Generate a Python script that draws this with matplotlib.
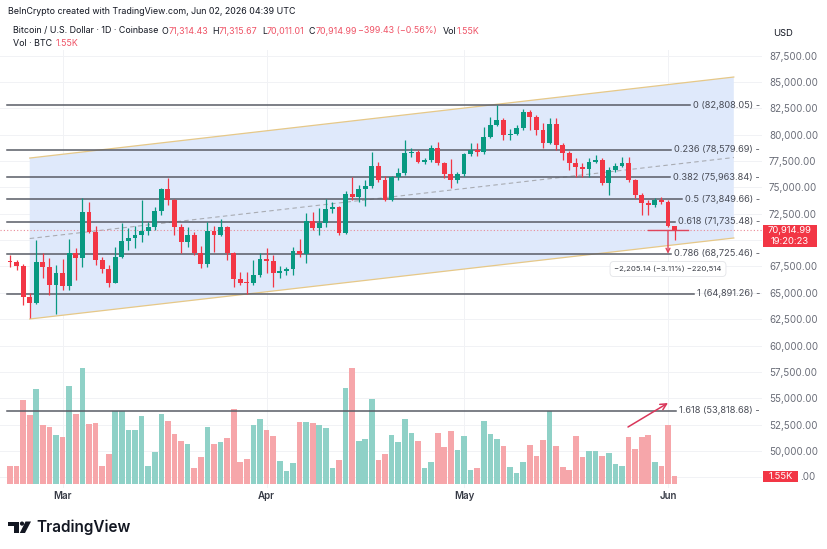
import numpy as np
import pandas as pd
import matplotlib
matplotlib.use("Agg")
import matplotlib.pyplot as plt
import matplotlib.transforms as mtransforms
from matplotlib.patches import Polygon, Rectangle, Circle

plt.rcParams['font.family'] = ['Inter', 'DejaVu Sans']

# ---------------- data ----------------
dates = pd.date_range('2026-02-21', '2026-06-02', freq='D')

opens = [68050, 67900, 67580, 64640, 64010, 67950, 67420, 65740, 66850, 65680,
         68750, 68280, 72690, 70800, 68110, 67230, 65960, 68430, 69920, 70170,
         70460, 70860, 71210, 72790, 74820, 73800, 71210, 69850, 70480, 68810,
         67740, 70860, 70480, 71270, 68750, 66280, 65960, 65900, 66690, 68180,
         68050, 66850, 67050, 67250, 68970, 68680, 71840, 71120, 71650, 72920,
         73170, 70650, 74370, 74120, 74820, 75130, 77020, 75700, 73800, 75950,
         76390, 78230, 78380, 77430, 77560, 78700, 77280, 76240, 75700, 76240,
         78130, 78540, 78380, 79800, 80910, 81390, 79960, 80100, 80660, 82170,
         81700, 80440, 79180, 80980, 79020, 78230, 77280, 76960, 76740, 77430,
         77590, 75390, 76650, 77030, 77340, 75700, 74280, 73490, 73300, 73800,
         73600, 71314.43]
highs = [68590, 68110, 67700, 64960, 70010, 68750, 68280, 67640, 68180, 70080,
         69220, 73960, 73640, 71340, 68430, 67640, 69380, 71650, 71120, 71340,
         73800, 71750, 73110, 74910, 75860, 73900, 71520, 71280, 70800, 69440,
         71750, 71340, 71970, 71350, 68900, 67000, 67000, 68110, 68750, 69220,
         68590, 67500, 67480, 69380, 70080, 72540, 72690, 73010, 73870, 73640,
         73250, 74680, 75950, 75220, 75700, 78380, 77430, 76080, 76080, 76810,
         79490, 78700, 78540, 77800, 79020, 79330, 77400, 77660, 76430, 78230,
         79180, 79180, 80750, 81700, 82808.05, 81550, 80500, 80910, 82430, 82330,
         81860, 81070, 81550, 81550, 79200, 78400, 77760, 77300, 77760, 78070,
         77750, 76960, 77300, 77850, 77910, 75800, 74430, 73800, 74000, 74100,
         73800, 71315.67]
lows = [67480, 67170, 63850, 62590, 63900, 66380, 64800, 63030, 65270, 65270,
        66220, 67480, 70650, 67640, 66850, 65580, 65900, 68300, 69060, 69250,
        69800, 70480, 71000, 72380, 73330, 70480, 68750, 69380, 68590, 67330,
        67480, 68900, 70400, 68110, 65580, 65740, 64891.26, 65750, 66500, 66850,
        65580, 66400, 66690, 66690, 68430, 67800, 70960, 70480, 71270, 72540,
        70480, 70600, 73800, 73640, 73230, 74910, 75540, 73750, 73750, 75700,
        76170, 77900, 77280, 77200, 77430, 77120, 75860, 74910, 75390, 76100,
        77980, 77980, 78200, 79650, 80800, 79490, 79500, 79960, 80440, 80440,
        79960, 78700, 79100, 78540, 77590, 76650, 76010, 76010, 76010, 77280,
        75220, 74280, 76500, 76960, 75540, 74000, 72380, 72380, 73100, 73450,
        71200, 70011.01]
closes = [67900, 67580, 64640, 64010, 67950, 67420, 65740, 66850, 65680, 68750,
          68280, 72690, 70800, 68110, 67230, 65960, 68430, 69920, 70170, 70460,
          70860, 71210, 72790, 74820, 73800, 71210, 69850, 70480, 68810, 67740,
          70860, 70480, 71270, 68750, 66280, 65960, 65900, 66690, 68180, 68050,
          66850, 67050, 67250, 68970, 68680, 71840, 71120, 71650, 72920, 73170,
          70650, 74370, 74120, 74820, 75130, 77020, 75700, 73800, 75950, 76390,
          78230, 78380, 77430, 77560, 78700, 77280, 76240, 75700, 76240, 78130,
          78540, 78380, 79800, 80910, 81390, 79960, 80100, 80660, 82170, 81700,
          80440, 79180, 80980, 79020, 78230, 77280, 76960, 76740, 77430, 77590,
          75390, 76650, 77030, 77340, 75700, 74280, 73490, 73300, 73800, 73600,
          71314.42, 70914.99]
volumes_k = [3.41, 3.41, 15.56, 12.83, 17.67, 10.91, 10.54, 9.18, 8.74, 18.17,
             13.08, 21.58, 11.16, 11.28, 3.41, 5.64, 13.64, 13.64, 10.11, 9.98,
             12.65, 3.29, 5.89, 12.96, 11.66, 9.36, 7.94, 7.44, 2.98, 5.08,
             10.60, 7.38, 7.87, 8.49, 13.95, 4.09, 4.71, 11.04, 12.09, 10.11,
             8.99, 4.34, 2.48, 3.84, 11.47, 11.47, 11.35, 10.91, 10.35, 2.91,
             4.53, 17.86, 21.58, 7.94, 8.37, 15.81, 4.40, 5.64, 9.11, 7.75,
             12.03, 9.49, 7.94, 2.98, 4.03, 9.49, 6.82, 9.92, 6.39, 8.99,
             2.54, 2.91, 11.78, 9.30, 8.43, 7.13, 3.16, 2.11, 4.03, 7.19,
             5.27, 8.12, 13.64, 7.01, 3.10, 2.54, 8.87, 5.02, 6.20, 6.20,
             5.15, 5.70, 3.72, 3.35, 8.74, 6.51, 8.74, 9.18, 4.09, 3.41,
             11.04, 1.55]

fib_ratios = ['0', '0.236', '0.382', '0.5', '0.618', '0.786', '1', '1.618']
fib_prices = [82808.05, 78579.69, 75963.84, 73849.66, 71735.48, 68725.46, 64891.26, 53818.68]

channel_idx = [3, 110]
channel_top = [77780, 85460]
channel_bottom = [62520, 70200]

price_ticks = list(range(47500, 87501, 2500))
month_labels = ['Mar', 'Apr', 'May', 'Jun']

measure_change = -2205.14
measure_pct = -3.11
measure_ticks = -220514
countdown = '19:20:23'
vol_last_label = '1.55K'

# ---------------- style / layout ----------------
GREEN, RED = '#089981', '#f23645'
VGREEN, VRED = '#8fd1c7', '#f6a6aa'
TXT, GRAY = '#131722', '#6a6d78'
RED_TXT = '#ef5366'

W, H = 828, 549
fig = plt.figure(figsize=(W / 100, H / 100), dpi=100)
fig.patch.set_facecolor('white')

AX_L, AX_R, AX_T, AX_B = 0, 762, 50, 488
ax = fig.add_axes([AX_L / W, 1 - AX_B / H, (AX_R - AX_L) / W, (AX_B - AX_T) / H])
axv = ax.twinx()
ax.set_zorder(2)
axv.set_zorder(1)
ax.patch.set_visible(False)

X0, DX = 10.0, 6.58          # px of first candle, px per bar
Y_REF, P_REF, USD_PER_PX = 105.0, 82808.05, 94.8
def px2price(py):
    return P_REF - (py - Y_REF) * USD_PER_PX
ax.set_xlim((AX_L - X0) / DX, (AX_R - X0) / DX)
ax.set_ylim(px2price(AX_B), px2price(AX_T))
VPX_PER_K = 5.376
axv.set_ylim(-(AX_B - 484) / VPX_PER_K, (484 - AX_T) / VPX_PER_K)

for a in (ax, axv):
    for s in a.spines.values():
        s.set_visible(False)

x = np.arange(len(dates))
o = np.array(opens); h = np.array(highs); l = np.array(lows); c = np.array(closes)
up = c >= o
ccol = np.where(up, GREEN, RED)
vcol = np.where(up, VGREEN, VRED)

# grid (behind volume)
month_idx = [i for i, d in enumerate(dates) if d.day == 1]
bt = mtransforms.blended_transform_factory(axv.transAxes, ax.transData)
for p in price_ticks:
    axv.plot([0, 1], [p, p], transform=bt, color='#f1f2f5', lw=0.7, zorder=0)
for i in month_idx:
    axv.axvline(i, color='#f1f2f5', lw=0.7, zorder=0)

# volume
axv.bar(x, volumes_k, width=0.86, color=vcol, linewidth=0, zorder=1)
axv.set_yticks([])

# channel
poly = Polygon([(channel_idx[0], channel_bottom[0]), (channel_idx[0], channel_top[0]),
                (channel_idx[1], channel_top[1]), (channel_idx[1], channel_bottom[1])],
               closed=True, facecolor='#dfe9fb', edgecolor='none', zorder=1)
ax.add_patch(poly)
ax.plot(channel_idx, channel_top, color='#e6c888', lw=0.9, zorder=2)
ax.plot(channel_idx, channel_bottom, color='#e6c888', lw=0.9, zorder=2)
mid = [(a + b) / 2 for a, b in zip(channel_top, channel_bottom)]
ax.plot(channel_idx, mid, color='#a9acb3', lw=0.8, ls=(0, (4, 3)), zorder=2)

# current price dotted line
ax.axhline(c[-1], color='#e98a96', lw=0.8, ls=(0, (1, 2)), zorder=2)

# candles
ax.vlines(x, l, h, colors=ccol, lw=0.9, zorder=4)
body_lo = np.minimum(o, c)
body_h = np.maximum(np.abs(c - o), 1.3 * USD_PER_PX)
ax.bar(x, body_h, bottom=body_lo, width=0.74, color=ccol, linewidth=0, zorder=5)

# fib levels
fig.canvas.draw()
renderer = fig.canvas.get_renderer()
label_x = (760 - X0) / DX
for r, p in zip(fib_ratios, fib_prices):
    t = ax.text(label_x, p, f'{r} ({p:,.2f}) -', ha='right', va='center',
                fontsize=6.7, color='#4a4d57', zorder=6)
    bb = t.get_window_extent(renderer)
    x_end = ax.transData.inverted().transform((bb.x0 - 3, 0))[0]
    ax.plot([(7 - X0) / DX, x_end], [p, p], color='#595c66', lw=1.1, zorder=3)

# measurement tool
mi = 100
ax.plot([(648 - X0) / DX, (688 - X0) / DX], [c[-1], c[-1]], color='#e0455c', lw=1.0, zorder=6)
ax.annotate('', xy=(mi, c[-1] + measure_change), xytext=(mi, c[-1]),
            arrowprops=dict(arrowstyle='->', color='#e0455c', lw=1.0,
                            mutation_scale=7, shrinkA=0, shrinkB=0), zorder=6)
ax.text(mi, px2price(269), f'\u2212{abs(measure_change):,.2f} (\u2212{abs(measure_pct):.2f}%) \u2212{abs(measure_ticks):,}',
        ha='center', va='center', fontsize=5.6, color='#3a3d46', zorder=7,
        bbox=dict(boxstyle='round,pad=0.55,rounding_size=0.5', fc='white', ec='#e3e4e8', lw=0.6))

# red arrow pointing to 1.618
ax.annotate('', xy=((668 - X0) / DX, px2price(403)), xytext=((628 - X0) / DX, px2price(427)),
            arrowprops=dict(arrowstyle='->', color='#d9365a', lw=1.1,
                            mutation_scale=11, shrinkA=0, shrinkB=0), zorder=6)

# axes ticks (labels hidden behind the red price/volume tags are left out)
hidden = {70000: '', 47500: ''}
ax.yaxis.tick_right()
ax.set_yticks(price_ticks)
ax.set_yticklabels([hidden.get(p, f'{p:,.2f}') for p in price_ticks])
ax.tick_params(axis='y', length=0, pad=5, labelsize=7, labelcolor=GRAY)
ax.set_xticks(month_idx)
ax.set_xticklabels(month_labels, fontweight='semibold')
ax.tick_params(axis='x', length=0, pad=2.5, labelsize=7, labelcolor='#363a45')
axv.tick_params(axis='both', length=0)

# ---------------- overlay (pixel coordinates) ----------------
ov = fig.add_axes([0, 0, 1, 1])
ov.set_xlim(0, W); ov.set_ylim(H, 0); ov.axis('off')
ov.set_zorder(10); ov.patch.set_visible(False)

# price label
ov.add_patch(Rectangle((763, 225), 54, 22, fc=RED, ec='none'))
ov.text(790, 230.5, f'{c[-1]:,.2f}', ha='center', va='center', fontsize=6.8, color='white')
ov.text(790, 241.5, countdown, ha='center', va='center', fontsize=6.8, color='white')
# volume label (covers most of the 47,500.00 tick label; its tail stays visible)
ov.add_patch(Rectangle((763, 471), 35, 11, fc=RED, ec='none'))
ov.text(780.5, 476.5, vol_last_label, ha='center', va='center', fontsize=6.8, color='white')
ov.text(800, 477.4, '.00', ha='left', va='center', fontsize=7, color=GRAY)
ov.text(773, 33, 'USD', ha='left', va='center', fontsize=6.8, color=TXT)

# header
ov.text(8, 12, 'BeInCrypto created with TradingView.com, Jun 02, 2026 04:39 UTC',
        ha='left', va='center', fontsize=6.4, color=TXT)
fig.canvas.draw()
renderer = fig.canvas.get_renderer()
def put_seq(items, y):
    for txt, xpos, col in items:
        ov.text(xpos, y, txt, ha='left', va='center', fontsize=6.4, color=col)
def after(letter_x, letter):
    t = ov.text(letter_x, -50, letter, fontsize=6.4)
    bb = t.get_window_extent(renderer)
    t.remove()
    return letter_x + bb.width
chg = c[-1] - c[-2]
pct = chg / c[-2] * 100
items = [('Bitcoin / U.S. Dollar \u00b7 1D \u00b7 Coinbase', 13, TXT),
         ('O', 162, TXT), (f'{o[-1]:,.2f}', after(162, 'O'), RED_TXT),
         ('H', 212, TXT), (f'{h[-1]:,.2f}', after(212, 'H'), RED_TXT),
         ('L', 262, TXT), (f'{l[-1]:,.2f}', after(262, 'L'), RED_TXT),
         ('C', 309, TXT), (f'{c[-1]:,.2f}', after(309, 'C'), RED_TXT),
         (f'\u2212{abs(chg):,.2f} (\u2212{abs(pct):.2f}%)', 358, RED_TXT),
         ('Vol', 443, TXT), (vol_last_label, after(443, 'Vol'), RED_TXT)]
put_seq(items, 31)
put_seq([('Vol \u00b7 BTC', 13, TXT), (vol_last_label, 56, RED_TXT)], 44)

# TradingView logo
ov.add_patch(Rectangle((8, 521.5), 11, 4.2, fc=TXT, ec='none'))
ov.add_patch(Rectangle((14.5, 521.5), 4.5, 11.5, fc=TXT, ec='none'))
ov.add_patch(Circle((22, 523.6), 2.1, fc=TXT, ec='none'))
ov.add_patch(Polygon([(25.5, 521.5), (31, 521.5), (25, 533), (19.8, 533)], closed=True, fc=TXT, ec='none'))
ov.text(36, 527.5, 'TradingView', ha='left', va='center', fontsize=11, fontweight='semibold', color=TXT)

fig.savefig('out.png', dpi=100, facecolor='white')
